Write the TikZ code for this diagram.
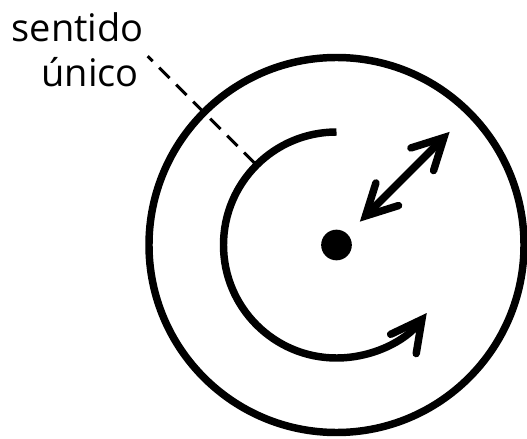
\documentclass[tikz,border=0pt]{standalone}
\usepackage{fontspec}
\setmainfont{Open Sans}
\usetikzlibrary{arrows.meta}

\begin{document}
\begin{tikzpicture}[x=0.75pt,y=0.75pt,
        heavy/.style={line width=5.6pt},
        barb/.tip={Straight Barb[length=23pt,width=24pt,line cap=round,line join=miter]},
        lbl/.style={anchor=base east,inner sep=0pt,font=\fontsize{28.5}{34}\selectfont},
        hint/.style={line width=2.2pt,dash pattern=on 11pt off 7pt}]
        \useasboundingbox (-336.5,-193) rectangle (190.5,245);
        \node[circle,fill,minimum size=23pt,inner sep=0pt] (c) at (0,0) {};
        \node[lbl] (l1) at (-192.5,203) {sentido};
        \node[lbl] (l2) at (-197.5,158) {único};

        \coordinate (s) at (90:113);
        \coordinate (d1) at (45:33);
        \coordinate (d2) at (45:160);
        \coordinate (p1) at (135:116);
        \coordinate (p2) at (135:267);

        \draw[heavy] (c.center) circle[radius=187.5];
        \draw[heavy,-barb] (s) arc[start angle=90,end angle=323,radius=113];
        \draw[heavy,barb-barb] (d1) -- (d2);
        \draw[hint] (p1) -- (p2);
    \end{tikzpicture}
\end{document}
